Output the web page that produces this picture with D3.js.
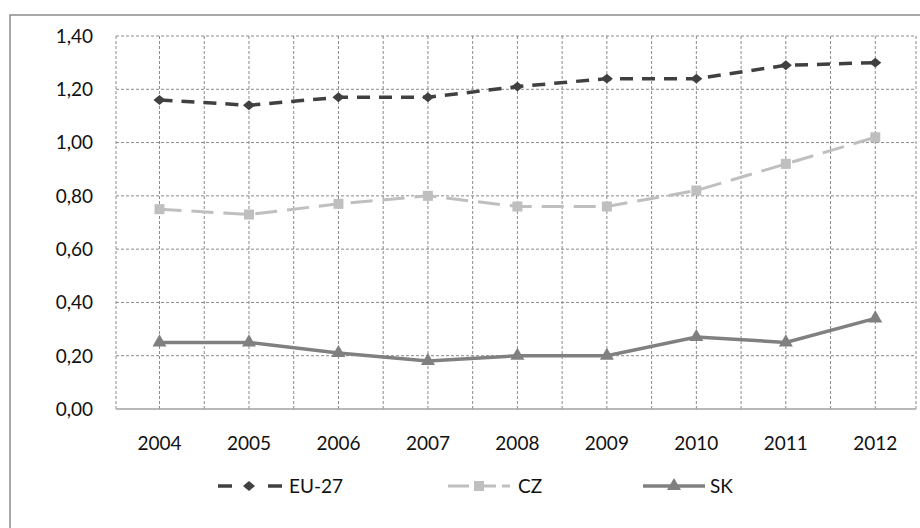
<!DOCTYPE html>
<html><head><meta charset="utf-8">
<script src="https://cdn.jsdelivr.net/npm/d3@7"></script>
<style>body{margin:0;background:#fff}svg{display:block}text{font-family:Lato,"Open Sans",sans-serif;fill:#111}</style>
</head><body><svg id="c" width="920" height="528"></svg>
<script>
const years = ["2004","2005","2006","2007","2008","2009","2010","2011","2012"];
const eu27 = [1.16,1.14,1.17,1.17,1.21,1.24,1.24,1.29,1.30];
const cz   = [0.75,0.73,0.77,0.80,0.76,0.76,0.82,0.92,1.02];
const sk   = [0.25,0.25,0.21,0.18,0.20,0.20,0.27,0.25,0.34];
const yTicks = [0,0.2,0.4,0.6,0.8,1.0,1.2,1.4];
const seriesNames = ["EU-27","CZ","SK"];

const svg = d3.select("#c");
// outer frame
svg.append("rect").attr("x",10).attr("y",15).attr("width",920).attr("height",540)
  .attr("fill","none").attr("stroke","#8c8c8c").attr("stroke-width",1.5);

const L=116,R=916,T=36,B=409;
const x = d3.scalePoint().domain(years).range([159.5,875.3]);
const y = d3.scaleLinear().domain([0,1.4]).range([B,T]);
const fmt = v => d3.format(".2f")(v).replace(".",",");

const g = svg.append("g");
// horizontal gridlines
g.selectAll(".hg").data(yTicks.filter(v=>v>0)).join("line")
  .attr("x1",L).attr("x2",R).attr("y1",d=>y(d)).attr("y2",d=>y(d))
  .attr("stroke","#8a8a8a").attr("stroke-width",1).attr("stroke-dasharray","3,2");
// vertical gridlines: at categories and between categories
const step = x.step();
const vx = [];
years.forEach((yr,i)=>{ vx.push(x(yr)); if(i<years.length-1) vx.push(x(yr)+step/2); });
vx.push(L); vx.push(R);
g.selectAll(".vg").data(vx).join("line")
  .attr("x1",d=>d).attr("x2",d=>d).attr("y1",T).attr("y2",B)
  .attr("stroke","#8a8a8a").attr("stroke-width",1).attr("stroke-dasharray","3,2");
// bottom axis line
g.append("line").attr("x1",L).attr("x2",R).attr("y1",B).attr("y2",B).attr("stroke","#a0a0a0").attr("stroke-width",1.5);

// y labels
g.selectAll(".yl").data(yTicks).join("text")
  .attr("x",93).attr("y",d=>y(d)).attr("dy","0.36em").attr("text-anchor","end")
  .style("font-size","19px").text(fmt);
// x labels
g.selectAll(".xl").data(years).join("text")
  .attr("x",d=>x(d)).attr("y",443).attr("dy","0.36em").attr("text-anchor","middle")
  .style("font-size","19px").text(d=>d);

const series = [
  {name:"EU-27", vals:eu27, color:"#404040", w:3.5, dash:"13,9", marker:"diamond"},
  {name:"CZ", vals:cz, color:"#bfbfbf", w:3, dash:"22,10", marker:"square"},
  {name:"SK", vals:sk, color:"#808080", w:3.5, dash:null, marker:"triangle"}
];
const sym = {diamond: d3.symbol().type(d3.symbolDiamond2).size(70),
  square: d3.symbol().type(d3.symbolSquare).size(100),
  triangle: d3.symbol().type(d3.symbolTriangle).size(85)};
const line = d3.line().x((d,i)=>x(years[i])).y(d=>y(d));
series.forEach(s=>{
  g.append("path").datum(s.vals).attr("d",line).attr("fill","none")
    .attr("stroke",s.color).attr("stroke-width",s.w).attr("stroke-dasharray",s.dash);
  g.selectAll(null).data(s.vals).join("path")
    .attr("transform",(d,i)=>`translate(${x(years[i])},${y(d)})${s.marker==="diamond"?" scale(1.15,0.95)":""}`)
    .attr("d",sym[s.marker]()).attr("fill",s.color);
});

// legend
const legX = [218,448,643];
const legY = 486;
series.forEach((s,i)=>{
  const lg = svg.append("g").attr("transform",`translate(${legX[i]},${legY})`);
  if(s.marker==="diamond"){
    lg.append("line").attr("x1",0).attr("x2",14).attr("stroke",s.color).attr("stroke-width",s.w);
    lg.append("line").attr("x1",50).attr("x2",64).attr("stroke",s.color).attr("stroke-width",s.w);
    lg.append("path").attr("transform","translate(31,0) scale(1.15,0.95)").attr("d",sym.diamond()).attr("fill",s.color);
  } else {
    lg.append("line").attr("x1",0).attr("x2",62).attr("stroke",s.color).attr("stroke-width",s.w)
      .attr("stroke-dasharray",s.dash?"21,6":null);
    lg.append("path").attr("transform","translate(31,0)").attr("d",sym[s.marker]()).attr("fill",s.color);
  }
  lg.append("text").attr("x",i===0?71:(i===1?70:67)).attr("y",0).attr("dy","0.36em")
    .style("font-size","19px").text(s.name);
});
</script></body></html>
